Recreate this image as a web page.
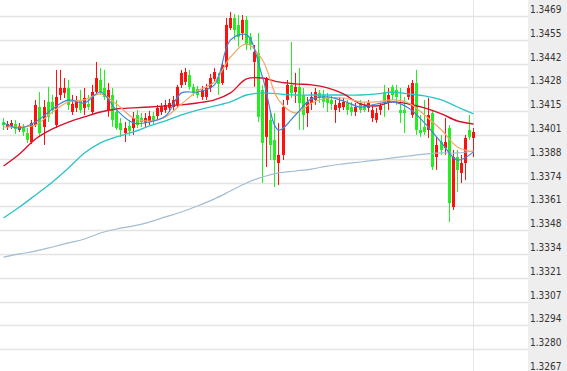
<!DOCTYPE html>
<html lang="zh">
  <head>
    <meta charset="UTF-8" />
    <title>K线图</title>
    <script src="https://d3js.org/d3.v7.min.js"></script>
    <style>
      body { margin: 0; background: #fff; }
      svg { display: block; }
    </style>
  </head>
  <body>
    <div id="chart"></div>
  </body>
</html>

<script>
  // candle data
  const opens = [
    1.34090, 1.34062, 1.34068, 1.34079, 1.34045, 1.34062, 1.34028, 1.33977, 1.34073, 1.34175, 1.34062, 1.34204,
    1.34204, 1.34073, 1.34243, 1.34255, 1.34283, 1.34147, 1.34170, 1.34215, 1.34170, 1.34192, 1.34147, 1.34260,
    1.34328, 1.34283, 1.34158, 1.34243, 1.34147, 1.34085, 1.34028, 1.34068, 1.34056, 1.34130, 1.34113, 1.34085,
    1.34096, 1.34124, 1.34124, 1.34147, 1.34158, 1.34170, 1.34175, 1.34187, 1.34300, 1.34317, 1.34356, 1.34289,
    1.34277, 1.34232, 1.34232, 1.34283, 1.34334, 1.34345, 1.34311,
    1.34402, 1.34622, 1.34679, 1.34640, 1.34594, 1.34668, 1.34572, 1.34430, 1.34481, 1.34272, 1.34006, 1.34102,
    1.33989, 1.33858, 1.33904, 1.34215, 1.34300,
    1.34260, 1.34289, 1.34243, 1.34141, 1.34198, 1.34215, 1.34255, 1.34243, 1.34226, 1.34215, 1.34158, 1.34170,
    1.34175, 1.34198, 1.34175, 1.34147, 1.34198, 1.34181, 1.34170, 1.34113, 1.34102, 1.34158, 1.34255, 1.34198,
    1.34289, 1.34272, 1.34158, 1.34158, 1.34232, 1.34130,
    1.34311, 1.34045, 1.34062, 1.34045, 1.34141, 1.33892, 1.33977, 1.33943, 1.34056,
    1.33609, 1.33892, 1.33802, 1.33858, 1.34045, 1.34000
  ]
  const closes = [
    1.34073, 1.34079, 1.34085, 1.34051, 1.34068, 1.34034, 1.33989, 1.34085, 1.34187, 1.34028, 1.34175, 1.34119,
    1.34158, 1.34232, 1.34283, 1.34283, 1.34187, 1.34192, 1.34204, 1.34158, 1.34226, 1.34175, 1.34260, 1.34339,
    1.34260, 1.34232, 1.34272, 1.34102, 1.34056, 1.34045, 1.34056, 1.34040, 1.34113, 1.34073, 1.34090, 1.34113,
    1.34124, 1.34102, 1.34170, 1.34175, 1.34187, 1.34198, 1.34215, 1.34289, 1.34368, 1.34373, 1.34289, 1.34255,
    1.34243, 1.34272, 1.34283, 1.34339, 1.34373, 1.34306, 1.34413,
    1.34640, 1.34679, 1.34611, 1.34572, 1.34668, 1.34526, 1.34526, 1.34487, 1.34119, 1.33972, 1.34339, 1.33960,
    1.33875, 1.33904, 1.34175, 1.34300, 1.34255,
    1.34289, 1.34198, 1.34130, 1.34204, 1.34232, 1.34260, 1.34226, 1.34204, 1.34198, 1.34192, 1.34187, 1.34198,
    1.34204, 1.34158, 1.34147, 1.34175, 1.34158, 1.34158, 1.34198, 1.34158, 1.34141, 1.34181, 1.34204, 1.34243,
    1.34243, 1.34232, 1.34141, 1.34141, 1.34283, 1.34311,
    1.34045, 1.34028, 1.34034, 1.34130, 1.33836, 1.33960, 1.33932, 1.33977, 1.33632,
    1.33892, 1.33819, 1.33858, 1.34000, 1.34006, 1.34034
  ]
  const highs = [
    1.34113, 1.34096, 1.34102, 1.34102, 1.34085, 1.34079, 1.34056, 1.34102, 1.34215, 1.34260, 1.34215, 1.34289,
    1.34243, 1.34385, 1.34385, 1.34339, 1.34328, 1.34243, 1.34238, 1.34272, 1.34283, 1.34243, 1.34300, 1.34430,
    1.34396, 1.34385, 1.34311, 1.34283, 1.34215, 1.34113, 1.34090, 1.34102, 1.34147, 1.34158, 1.34141, 1.34141,
    1.34153, 1.34147, 1.34187, 1.34198, 1.34215, 1.34221, 1.34238, 1.34300, 1.34385, 1.34396, 1.34385, 1.34306,
    1.34294, 1.34294, 1.34306, 1.34362, 1.34396, 1.34368, 1.34430,
    1.34679, 1.34713, 1.34702, 1.34696, 1.34696, 1.34690, 1.34594, 1.34526, 1.34594, 1.34300, 1.34345, 1.34158,
    1.34141, 1.34085, 1.34215, 1.34328, 1.34543,
    1.34368, 1.34396, 1.34283, 1.34232, 1.34260, 1.34283, 1.34272, 1.34272, 1.34255, 1.34238, 1.34215, 1.34232,
    1.34226, 1.34215, 1.34204, 1.34198, 1.34215, 1.34204, 1.34215, 1.34187, 1.34170, 1.34198, 1.34300, 1.34283,
    1.34300, 1.34300, 1.34283, 1.34232, 1.34300, 1.34328,
    1.34385, 1.34130, 1.34215, 1.34226, 1.34158, 1.34006, 1.34017, 1.34113, 1.34073,
    1.33932, 1.33932, 1.33904, 1.34017, 1.34130, 1.34056
  ]
  const lows = [
    1.34045, 1.34045, 1.34051, 1.34023, 1.34034, 1.34011, 1.33972, 1.33966, 1.34062, 1.34006, 1.33960, 1.34090,
    1.34136, 1.34056, 1.34215, 1.34226, 1.34158, 1.34130, 1.34147, 1.34141, 1.34130, 1.34158, 1.34130, 1.34243,
    1.34243, 1.34215, 1.34119, 1.34062, 1.34045, 1.34006, 1.33977, 1.34011, 1.34017, 1.34056, 1.34062, 1.34062,
    1.34073, 1.34079, 1.34102, 1.34130, 1.34141, 1.34147, 1.34158, 1.34175, 1.34283, 1.34300, 1.34272, 1.34238,
    1.34226, 1.34215, 1.34215, 1.34260, 1.34317, 1.34243, 1.34300,
    1.34385, 1.34611, 1.34555, 1.34515, 1.34555, 1.34498, 1.34498, 1.34289, 1.34090, 1.33745, 1.33836, 1.33875,
    1.33723, 1.33734, 1.33875, 1.34187, 1.34226,
    1.34198, 1.34045, 1.34045, 1.34062, 1.34158, 1.34187, 1.34198, 1.34170, 1.34147, 1.34158, 1.34085, 1.34147,
    1.34158, 1.34130, 1.34124, 1.34124, 1.34141, 1.34147, 1.34147, 1.34090, 1.34085, 1.34130, 1.34119, 1.34158,
    1.34215, 1.34187, 1.34085, 1.34028, 1.34215, 1.34113,
    1.34017, 1.34006, 1.34017, 1.34000, 1.33819, 1.33819, 1.33904, 1.33904, 1.33524,
    1.33592, 1.33694, 1.33745, 1.33762, 1.33989, 1.33892
  ]
  const categories = d3.range(opens.length)

  // moving averages, one reading every 4 candles
  const maStep = 4
  const ma5 = [
    1.34085, 1.34056, 1.34090, 1.34164, 1.34215, 1.34198, 1.34260, 1.34158, 1.34085, 1.34090, 1.34124, 1.34255,
    1.34260, 1.34300, 1.34555, 1.34583, 1.34345, 1.34045, 1.34130, 1.34221, 1.34232, 1.34209, 1.34175, 1.34192,
    1.34204, 1.34170, 1.34085, 1.33972, 1.33875, 1.33921
  ]
  const ma10 = [
    1.34062, 1.34062, 1.34073, 1.34147, 1.34204, 1.34215, 1.34249, 1.34192, 1.34113, 1.34096, 1.34119, 1.34192,
    1.34266, 1.34317, 1.34458, 1.34532, 1.34441, 1.34215, 1.34141, 1.34198, 1.34226, 1.34226, 1.34204, 1.34204,
    1.34215, 1.34198, 1.34130, 1.34045, 1.33949, 1.33921
  ]
  const ma20 = [
    1.33841, 1.33909, 1.33994, 1.34051, 1.34090, 1.34119, 1.34147, 1.34164, 1.34170, 1.34175, 1.34181, 1.34187,
    1.34198, 1.34215, 1.34255, 1.34334, 1.34339, 1.34317, 1.34306, 1.34300, 1.34283, 1.34249, 1.34192, 1.34181,
    1.34204, 1.34192, 1.34170, 1.34136, 1.34096, 1.34079
  ]
  const ma60 = [
    1.33547, 1.33609, 1.33677, 1.33751, 1.33830, 1.33915, 1.33972, 1.34006, 1.34034, 1.34068, 1.34096, 1.34130,
    1.34158, 1.34181, 1.34204, 1.34243, 1.34255, 1.34249, 1.34243, 1.34243, 1.34243, 1.34243, 1.34243, 1.34249,
    1.34260, 1.34249, 1.34238, 1.34215, 1.34175, 1.34136
  ]
  const ma120 = [
    1.33326, 1.33344, 1.33360, 1.33383, 1.33406, 1.33428, 1.33462, 1.33485, 1.33502, 1.33524, 1.33553, 1.33581,
    1.33615, 1.33655, 1.33700, 1.33745, 1.33779, 1.33802, 1.33813, 1.33824, 1.33841, 1.33853, 1.33864, 1.33875,
    1.33887, 1.33898, 1.33909, 1.33915, 1.33915, 1.33926
  ]

  const yTickLabels = [
    "1.3469", "1.3455", "1.3442", "1.3428", "1.3415", "1.3401", "1.3388", "1.3374",
    "1.3361", "1.3348", "1.3334", "1.3321", "1.3307", "1.3294", "1.3280", "1.3267"
  ]

  const width = 567
  const height = 371
  const plotRight = 528

  const svg = d3
    .select("#chart")
    .append("svg")
    .attr("width", width)
    .attr("height", height)

  const yMax = +yTickLabels[0]
  const yMin = +yTickLabels[yTickLabels.length - 1]

  const x = d3
    .scaleBand()
    .domain(categories)
    .range([2, 475])
    .paddingInner(0.25)
    .paddingOuter(0)

  const y = d3
    .scaleLinear()
    .domain([yMin, yMax])
    .range([373, 16])

  const cx = (i) => Math.round(x(i)) + 1.5

  // price axis panel
  svg
    .append("rect")
    .attr("x", plotRight)
    .attr("y", 0)
    .attr("width", width - plotRight)
    .attr("height", height)
    .attr("fill", "#eeeeee")

  // horizontal grid, evenly split between the end labels
  const gridVals = yTickLabels.map((d, k) => yMax - (k * (yMax - yMin)) / (yTickLabels.length - 1))

  svg
    .append("g")
    .selectAll("line")
    .data(gridVals)
    .enter()
    .append("line")
    .attr("x1", 0)
    .attr("x2", plotRight)
    .attr("y1", (d) => Math.round(y(d)) + 0.5)
    .attr("y2", (d) => Math.round(y(d)) + 0.5)
    .attr("stroke", "#e4e4e4")
    .attr("stroke-width", 1.3)

  // session separator at the last bar
  const lastIdx = categories[categories.length - 1]
  svg
    .append("line")
    .attr("x1", cx(lastIdx))
    .attr("x2", cx(lastIdx))
    .attr("y1", 0)
    .attr("y2", height)
    .attr("stroke", "#e4e4e4")
    .attr("stroke-width", 1)

  svg
    .append("g")
    .selectAll("text")
    .data(yTickLabels)
    .enter()
    .append("text")
    .attr("x", 530)
    .attr("y", (d, k) => Math.round(y(gridVals[k])) - 3)
    .attr("font-family", "'DejaVu Sans Condensed', 'DejaVu Sans', sans-serif")
    .attr("font-stretch", "condensed")
    .attr("font-size", 10)
    .attr("fill", "#333")
    .text((d) => d)

  // candles
  const up = "#ff1010"
  const down = "#22ee22"
  const candles = svg
    .append("g")
    .selectAll("g")
    .data(categories)
    .enter()
    .append("g")

  candles
    .append("line")
    .attr("x1", (i) => cx(i))
    .attr("x2", (i) => cx(i))
    .attr("y1", (i) => y(highs[i]))
    .attr("y2", (i) => y(lows[i]))
    .attr("stroke", (i) => (closes[i] >= opens[i] ? up : down))
    .attr("stroke-width", 1)

  candles
    .append("rect")
    .attr("x", (i) => Math.round(x(i)))
    .attr("width", 3)
    .attr("y", (i) => y(Math.max(opens[i], closes[i])))
    .attr("height", (i) => Math.max(1, Math.abs(y(opens[i]) - y(closes[i]))))
    .attr("fill", (i) => (closes[i] >= opens[i] ? up : down))

  // moving average lines
  const maLine = d3
    .line()
    .x((d, k) => cx(categories[k * maStep]))
    .y((d) => y(d))
    .curve(d3.curveCatmullRom.alpha(0.5))

  const series = [
    { vals: ma120, color: "#a3bdd2", w: 1.2 },
    { vals: ma60, color: "#2cc3c8", w: 1.3 },
    { vals: ma20, color: "#d8102c", w: 1.4 },
    { vals: ma10, color: "#f3a66a", w: 1.2 },
    { vals: ma5, color: "#3b86e0", w: 1.2 },
  ]

  svg
    .append("g")
    .selectAll("path")
    .data(series)
    .enter()
    .append("path")
    .attr("d", (s) => maLine(s.vals))
    .attr("fill", "none")
    .attr("stroke", (s) => s.color)
    .attr("stroke-width", (s) => s.w)
</script>
